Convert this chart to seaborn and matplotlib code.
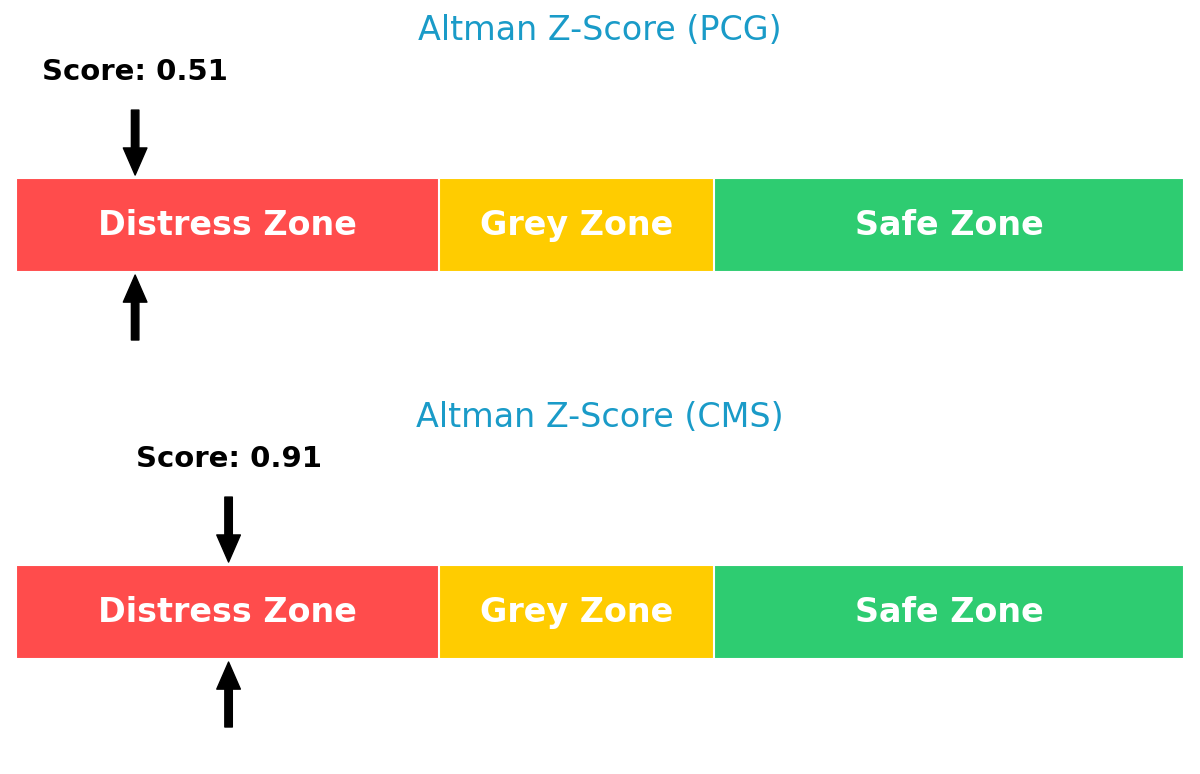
import matplotlib
matplotlib.use("Agg")
import matplotlib.pyplot as plt
import seaborn as sns

# data
tickers = ["PCG", "CMS"]
scores = [0.51, 0.91]
zone_names = ["Distress Zone", "Grey Zone", "Safe Zone"]
zone_bounds = [0.0, 1.81, 2.99, 5.0]
zone_colors = ["#FF4C4C", "#FFCC00", "#2ECC71"]

sns.set_style("white")
plt.rcParams["font.family"] = ["DejaVu Sans"]
fig = plt.figure(figsize=(12, 7.74), dpi=100)

for i in range(len(tickers)):
    ax = fig.add_axes([16 / 1200, 0.5 - i * 0.5, 1168 / 1200, 0.5])
    # widest zone first, narrower ones on top -> stacked look
    for j in reversed(range(len(zone_names))):
        sns.barplot(x=[zone_bounds[j + 1]], y=["z"], orient="h", color=zone_colors[j],
                    width=1, edgecolor="white", linewidth=1.5, saturation=1, ax=ax)
    for j, name in enumerate(zone_names):
        ax.text((zone_bounds[j] + zone_bounds[j + 1]) / 2, 0, name, ha="center", va="center",
                color="white", fontsize=24, fontweight="bold")
    sc = scores[i]
    ax.annotate("", xy=(sc, -0.532), xytext=(sc, -1.223),
                arrowprops=dict(facecolor="black", edgecolor="black", width=5.4,
                                headwidth=17, headlength=19.5, shrink=0))
    ax.annotate("", xy=(sc, 0.532), xytext=(sc, 1.223),
                arrowprops=dict(facecolor="black", edgecolor="black", width=5.4,
                                headwidth=17, headlength=19.5, shrink=0))
    ax.text(sc, -1.628, f"Score: {sc:.2f}", ha="center", va="center",
            fontsize=21, fontweight="bold", color="black")
    ax.text(2.5, -2.074, f"Altman Z-Score ({tickers[i]})", ha="center", va="center",
            fontsize=24, color="#1A9BC8")
    ax.set_xlim(0, 5)
    ax.set_ylim(1.723, -2.394)
    ax.axis("off")

fig.savefig("out.png", dpi=100, facecolor="white")
